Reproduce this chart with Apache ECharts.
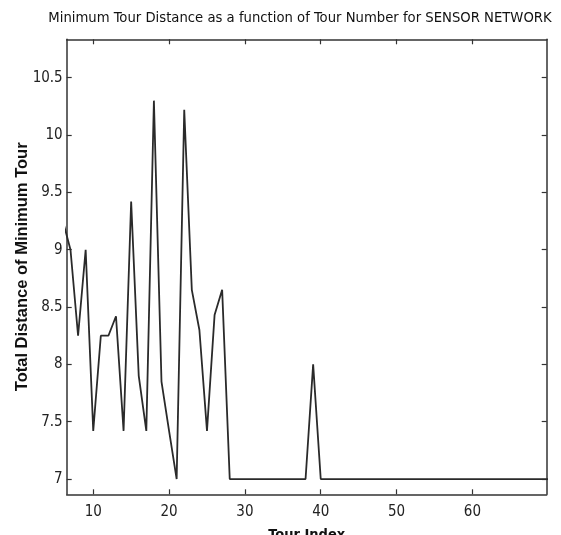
<!DOCTYPE html>
<html>
<head>
<meta charset="utf-8">
<script src="https://cdn.jsdelivr.net/npm/echarts@6/dist/echarts.min.js"></script>
<style>
  html, body { margin: 0; padding: 0; background: #fff; }
  #chart { width: 561px; height: 535px; }
</style>
</head>
<body>
<div id="chart"></div>
<script>
// tour index (x) and minimum tour distance (y)
const tourIndex = [6, 7, 8, 9, 10, 11, 12, 13, 14, 15, 16, 17, 18, 19, 20, 21, 22, 23, 24, 25,
  26, 27, 28, 29, 30, 31, 32, 33, 34, 35, 36, 37, 38, 39, 40, 41, 42, 43, 44, 45,
  46, 47, 48, 49, 50, 51, 52, 53, 54, 55, 56, 57, 58, 59, 60, 61, 62, 63, 64, 65,
  66, 67, 68, 69, 70];
const minDistance = [9.25, 9.0, 8.25, 9.0, 7.42, 8.25, 8.25, 8.42, 7.42, 9.42, 7.9, 7.42, 10.3, 7.85, 7.42, 7.0, 10.22, 8.65, 8.3, 7.42,
  8.43, 8.65, 7.0, 7.0, 7.0, 7.0, 7.0, 7.0, 7.0, 7.0, 7.0, 7.0, 7.0, 8.0, 7.0, 7.0, 7.0, 7.0, 7.0, 7.0,
  7.0, 7.0, 7.0, 7.0, 7.0, 7.0, 7.0, 7.0, 7.0, 7.0, 7.0, 7.0, 7.0, 7.0, 7.0, 7.0, 7.0, 7.0, 7.0, 7.0,
  7.0, 7.0, 7.0, 7.0, 7.0];
const xTicks = [10, 20, 30, 40, 50, 60];
const yTicks = [7, 7.5, 8, 8.5, 9, 9.5, 10, 10.5];

const narrow = "'Liberation Sans Narrow', 'DejaVu Sans Condensed', 'Arial Narrow', sans-serif";
const frameColor = "#333";

let chart = echarts.init(document.getElementById("chart"));

let points = tourIndex.map((x, i) => [x, minDistance[i]]);

// axis pieces shared by the four box sides (matlab style: ticks inward)
function boxAxis(pos, ticks, withLabels) {
  return {
    type: "value",
    position: pos,
    axisLine: { show: true, onZero: false, lineStyle: { color: frameColor, width: 1.5 } },
    axisTick: { show: true, inside: true, length: 5, customValues: ticks, lineStyle: { color: frameColor, width: 1.2 } },
    axisLabel: withLabels
      ? { show: true, customValues: ticks, color: "#222", fontFamily: narrow, fontSize: 15 }
      : { show: false },
    splitLine: { show: false },
  };
}

let xBottom = boxAxis("bottom", xTicks, true);
xBottom.min = 6.5;
xBottom.max = 69.8;
xBottom.axisLabel.margin = 10;
xBottom.name = "Tour Index";
xBottom.nameLocation = "middle";
xBottom.nameGap = 33;
xBottom.nameMoveOverlap = false;
xBottom.nameTextStyle = { fontFamily: narrow, fontWeight: "bold", fontSize: 14.5, color: "#111" };

let xTop = boxAxis("top", xTicks, false);
xTop.min = 6.5;
xTop.max = 69.8;

let yLeft = boxAxis("left", yTicks, true);
yLeft.min = 6.867;
yLeft.max = 10.835;
yLeft.axisLabel.margin = 4;
yLeft.name = "Total Distance of Minimum Tour";
yLeft.nameLocation = "middle";
yLeft.nameGap = 36;
yLeft.nameMoveOverlap = false;
yLeft.nameTextStyle = { fontFamily: "'Liberation Sans', Arial, sans-serif", fontWeight: "bold", fontSize: 16.5, color: "#111" };

let yRight = boxAxis("right", yTicks, false);
yRight.min = 6.867;
yRight.max = 10.835;

let option = {
  backgroundColor: "#fff",
  animation: false,
  title: {
    text: "Minimum Tour Distance as a function of Tour Number for SENSOR NETWORK",
    left: 300,
    top: 11,
    padding: 0,
    textAlign: "center",
    textStyle: { fontFamily: narrow, fontSize: 14.7, fontWeight: "normal", color: "#111" },
  },
  grid: { left: 66.7, right: 14.3, top: 39.3, bottom: 40.7, containLabel: false, outerBoundsMode: "none" },
  xAxis: [xBottom, xTop],
  yAxis: [yLeft, yRight],
  series: [
    {
      type: "line",
      data: points,
      xAxisIndex: 0,
      yAxisIndex: 0,
      showSymbol: false,
      clip: true,
      lineStyle: { color: "#2a2a2a", width: 1.8 },
    },
  ],
};
chart.setOption(option);
</script>
</body>
</html>
